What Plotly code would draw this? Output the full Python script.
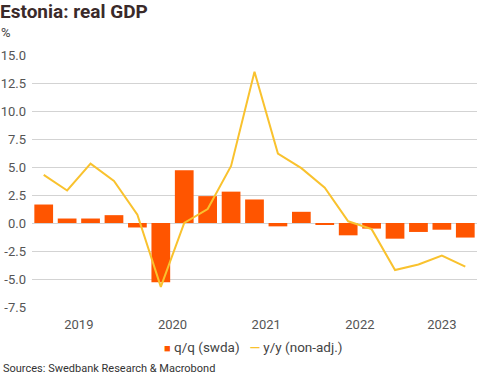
import plotly.graph_objects as go

quarters = ["2019Q1","2019Q2","2019Q3","2019Q4",
            "2020Q1","2020Q2","2020Q3","2020Q4",
            "2021Q1","2021Q2","2021Q3","2021Q4",
            "2022Q1","2022Q2","2022Q3","2022Q4",
            "2023Q1","2023Q2","2023Q3"]
qq_swda = [1.65, 0.4, 0.4, 0.7, -0.4, -5.3, 4.7, 2.4, 2.8, 2.1, -0.3, 1.0,
           -0.1, -1.1, -0.5, -1.4, -0.8, -0.6, -1.3]
yy_nonadj = [4.3, 2.9, 5.3, 3.75, 0.75, -5.7, 0.0, 1.25, 5.1, 13.5, 6.2, 4.9,
             3.15, 0.15, -0.55, -4.2, -3.7, -2.9, -3.9]
y_ticks = [-7.5, -5.0, -2.5, 0.0, 2.5, 5.0, 7.5, 10.0, 12.5, 15.0]
series_names = ["q/q (swda)", "y/y (non-adj.)"]

x = list(range(len(quarters)))
years = sorted(set(q[:4] for q in quarters))
year_pos = [sum(i for i, q in enumerate(quarters) if q[:4] == yr) /
            sum(1 for q in quarters if q[:4] == yr) for yr in years]

FONT = "Roboto"
ORANGE = "#FF5500"
YELLOW = "#F9C22E"
fig = go.Figure()
fig.add_trace(go.Bar(x=x, y=qq_swda, name=series_names[0], showlegend=False,
                     marker=dict(color=ORANGE, line=dict(width=0)),
                     width=0.8))
fig.add_trace(go.Scatter(x=x, y=yy_nonadj, name=series_names[1], mode="lines",
                         showlegend=False,
                         line=dict(color=YELLOW, width=2)))

legend_text = (f'<span style="color:{ORANGE};font-size:11px">■</span>&nbsp;'
               f'{series_names[0]}&nbsp;&nbsp;&nbsp;'
               f'<span style="color:{YELLOW};font-weight:bold">—</span>&nbsp;{series_names[1]}')

fig.update_layout(
    width=491, height=377,
    margin=dict(l=32, r=14, t=55, b=70),
    paper_bgcolor="white", plot_bgcolor="white",
    font=dict(family=FONT, size=13, color="#555555"),
    showlegend=False,
    bargap=0.2,
    annotations=[
        dict(text="<b>Estonia: real GDP</b>", x=0, y=1, xref="paper", yref="paper",
             xanchor="left", yanchor="top", showarrow=False, yshift=57,
             xshift=-34, font=dict(family=FONT, size=19, color="#3a2a2a")),
        dict(text="%", x=0, y=1, xref="paper", yref="paper",
             xanchor="left", yanchor="top", showarrow=False, yshift=32,
             xshift=-33, font=dict(family=FONT, size=13, color="#444444")),
        dict(text=legend_text, x=0.5, y=0, xref="paper", yref="paper",
             xanchor="center", yanchor="middle", showarrow=False,
             yshift=-40, xshift=-2,
             font=dict(family=FONT, size=13.5, color="#444444")),
        dict(text="Sources: Swedbank Research & Macrobond", x=0, y=0,
             xref="paper", yref="paper", xanchor="left", yanchor="top",
             showarrow=False, yshift=-53, xshift=-31,
             font=dict(family=FONT, size=11, color="#333333")),
    ],
)
fig.update_xaxes(range=[-0.5, len(quarters) - 0.5], tickmode="array",
                 tickvals=year_pos, ticktext=years, showgrid=False,
                 zeroline=False, showline=False, ticks="", automargin=False,
                 ticklabelstandoff=8,
                 tickfont=dict(size=13, color="#555555"))
fig.update_yaxes(range=[-7.5, 15.0], tickmode="array", tickvals=y_ticks,
                 ticktext=[f"{v:.1f}" for v in y_ticks],
                 showgrid=True, gridcolor="#d3d3d3", gridwidth=1,
                 zeroline=False, showline=False, ticks="", automargin=False,
                 ticklabelstandoff=5,
                 tickfont=dict(size=13, color="#555555"))

fig.write_html("out.html", config={"displayModeBar": False},
               post_script="document.body.style.margin='0';document.body.style.overflow='hidden';")
